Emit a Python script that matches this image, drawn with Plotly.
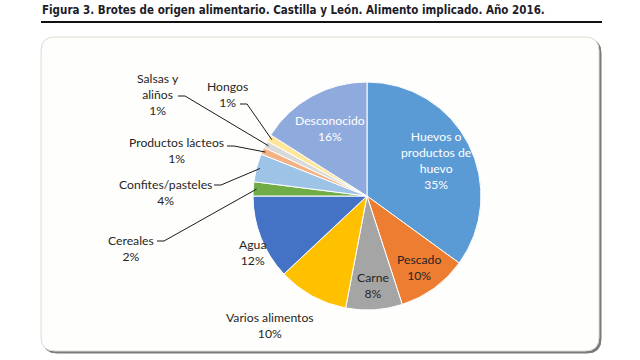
import math
import plotly.graph_objects as go

# ---- data ----
categories = ["Huevos o productos de huevo", "Pescado", "Carne", "Varios alimentos", "Agua",
              "Cereales", "Confites/pasteles", "Productos lácteos", "Salsas y aliños",
              "Hongos", "Desconocido"]
label_text = ["Huevos o<br>productos de<br>huevo", "Pescado", "Carne", "Varios alimentos", "Agua",
              "Cereales", "Confites/pasteles", "Productos lácteos", "Salsas y<br>aliños",
              "Hongos", "Desconocido"]
values = [35, 10, 8, 10, 12, 2, 4, 1, 1, 1, 16]
colors = ["#5B9BD5", "#ED7D31", "#A5A5A5", "#FFC000", "#4472C4", "#70AD47",
          "#9DC3E6", "#F4B183", "#D9D9D9", "#FFE699", "#8FAADC"]
title_text = "Figura 3. Brotes de origen alimentario. Castilla y León. Alimento implicado. Año 2016."

# ---- layout geometry (pixels) ----
W, H = 640, 360
CX, CY, R = 367, 196, 114

def px(x):
    return x / W

def py(y):
    return 1 - y / H

total = sum(values)
cum = 0
mids = []
for v in values:
    mids.append((cum + v / 2) / total * 2 * math.pi)
    cum += v

def polar(i, frac):
    a = mids[i]
    return CX + frac * R * math.sin(a), CY - frac * R * math.cos(a)

fig = go.Figure(go.Pie(
    labels=categories, values=values, sort=False, direction="clockwise", rotation=0,
    marker=dict(colors=colors, line=dict(color="white", width=1)),
    textinfo="none", hoverinfo="label+percent", showlegend=False,
    domain=dict(x=[px(CX - R), px(CX + R)], y=[py(CY + R), py(CY - R)]),
))

FONT = "Lato, 'Open Sans', sans-serif"
annotations = []
shapes = []

def pct(i):
    return f"{round(values[i] / total * 100)}%"

def label(x, y, text, color):
    return dict(x=px(x), y=py(y), xref="paper", yref="paper", showarrow=False,
                xanchor="center", yanchor="middle", text=text, align="center",
                font=dict(family=FONT, size=12.2, color=color))

# inside labels: (index, radius fraction, color)
inside = [(0, 0.68, "white"), (10, 0.68, "white"), (1, 0.78, "#262626"), (2, 0.79, "#262626")]
for i, frac, col in inside:
    x, y = polar(i, frac)
    annotations.append(label(x, y, f"{label_text[i]}<br>{pct(i)}", col))

# outside labels: index -> (text center x, text center y, leader start x, leader start y)
outside = {
    3: (270, 325, None, None),
    4: (252, 253, None, None),
    5: (131, 248, 157, 241),
    6: (165, 192, 214, 185),
    7: (176, 150, 227, 146),
    8: (158, 95, 178, 96),
    9: (227, 95, 240, 104),
}
for i, (tx, ty, lx, ly) in outside.items():
    annotations.append(label(tx, ty, f"{label_text[i]}<br>{pct(i)}", "#262626"))
    if lx is not None:
        ex, ey = polar(i, 0.97)
        shapes.append(dict(type="path", xref="paper", yref="paper", layer="above",
                           path=f"M {px(lx)} {py(ly)} L {px(lx + 7)} {py(ly)} L {px(ex)} {py(ey)}",
                           line=dict(color="#1a1a1a", width=1)))

# title and rule
annotations.append(dict(x=px(40), y=py(10), xref="paper", yref="paper", xanchor="left",
                        yanchor="middle", showarrow=False, text=f"<b>{title_text}</b>",
                        font=dict(family="'DejaVu Sans Condensed', 'Liberation Sans Narrow', sans-serif",
                                  size=11.5, color="#1c1c28")))
shapes.append(dict(type="line", xref="paper", yref="paper", x0=px(41), x1=px(602),
                   y0=py(22), y1=py(22), line=dict(color="#111", width=2)))

def rounded(x0, y0, x1, y1, r):
    return (f"M {px(x0 + r)} {py(y0)} L {px(x1 - r)} {py(y0)} Q {px(x1)} {py(y0)} {px(x1)} {py(y0 + r)} "
            f"L {px(x1)} {py(y1 - r)} Q {px(x1)} {py(y1)} {px(x1 - r)} {py(y1)} "
            f"L {px(x0 + r)} {py(y1)} Q {px(x0)} {py(y1)} {px(x0)} {py(y1 - r)} "
            f"L {px(x0)} {py(y0 + r)} Q {px(x0)} {py(y0)} {px(x0 + r)} {py(y0)} Z")

shapes.insert(0, dict(type="path", xref="paper", yref="paper", layer="below",
                      path=rounded(43, 39, 601, 353, 14), fillcolor="#7a7a7a",
                      line=dict(color="#7a7a7a", width=1)))
shapes.insert(1, dict(type="path", xref="paper", yref="paper", layer="below",
                      path=rounded(41, 37, 599, 351, 14), fillcolor="#fefefc",
                      line=dict(color="#dcdcd4", width=1)))

fig.update_layout(width=W, height=H, margin=dict(l=0, r=0, t=0, b=0),
                  paper_bgcolor="white", plot_bgcolor="white",
                  annotations=annotations, shapes=shapes)
fig.write_html("out.html", config={"displayModeBar": False},
               post_script="document.body.style.margin='0';")
